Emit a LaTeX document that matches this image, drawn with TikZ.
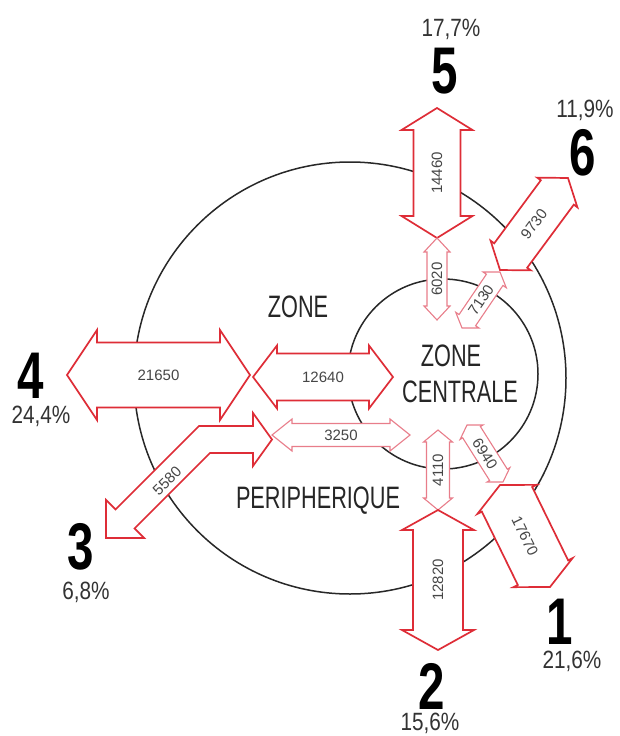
\documentclass[tikz,border=0pt]{standalone}
\usepackage{fontspec}
\setmainfont{Liberation Sans}
\newfontfamily\zonefont[FakeStretch=0.7]{Liberation Sans}
\newfontfamily\bignumfont[FakeStretch=0.72]{Liberation Sans Bold}
\newfontfamily\pctfont[FakeStretch=0.83]{Liberation Sans}
\usetikzlibrary{calc}
\definecolor{arrred}{RGB}{222,45,55}
\definecolor{arrpink}{RGB}{232,125,138}
\definecolor{labgray}{RGB}{70,70,70}
\definecolor{circdark}{RGB}{40,40,40}
\tikzset{
  bigarrow/.style={draw=arrred, line width=1.7pt, fill=white, line join=miter},
  smallarrow/.style={draw=arrpink, line width=1.1pt, fill=white, line join=miter},
  lbl/.style={font=\fontsize{15}{15}\selectfont, text=labgray, inner sep=0pt},
  zonetxt/.style={font=\zonefont\fontsize{31}{31}\selectfont, text=black!85, inner sep=0pt},
  bignum/.style={font=\bignumfont\fontsize{66}{66}\selectfont, text=black, inner sep=0pt},
  pct/.style={font=\pctfont\fontsize{25}{25}\selectfont, text=black!80, inner sep=0pt},
  ring/.style={draw=circdark, line width=1.5pt}
}
% #1 name, #2 tip A, #3 tip B, #4 shaft half width, #5 head half width,
% #6 head length, #7 style, #8 label rotation, #9 label
\newcommand\flowarrow[9]{%
  \coordinate (#1-A) at (#2);
  \coordinate (#1-B) at (#3);
  \coordinate (#1-HA) at ($(#1-A)!#6!(#1-B)$);
  \coordinate (#1-HB) at ($(#1-B)!#6!(#1-A)$);
  \draw[#7] (#1-A) -- ($(#1-HA)!#5!90:(#1-B)$) -- ($(#1-HA)!#4!90:(#1-B)$)
    -- ($(#1-HB)!#4!-90:(#1-A)$) -- ($(#1-HB)!#5!-90:(#1-A)$) -- (#1-B)
    -- ($(#1-HB)!#5!90:(#1-A)$) -- ($(#1-HB)!#4!90:(#1-A)$)
    -- ($(#1-HA)!#4!-90:(#1-B)$) -- ($(#1-HA)!#5!-90:(#1-B)$) -- cycle;
  \node[lbl, rotate=#8] (#1-t) at ($(#1-A)!0.5!(#1-B)$) {#9};
}
\begin{document}
\begin{tikzpicture}[x=1pt,y=-1pt]
\useasboundingbox (0,0) rectangle (619,736);
% rings
\draw[ring] (350,378) circle[radius=216];
\draw[ring] (443,374) circle[radius=95];
% arrows
\flowarrow{a5}{437,108}{437,238}{23.5pt}{35.5pt}{22pt}{bigarrow}{90}{14460}
\flowarrow{a5i}{437,238}{437,320}{10pt}{13pt}{14pt}{smallarrow}{90}{6020}
\flowarrow{a6}{500,270}{568,178}{20.5pt}{25pt}{18pt}{bigarrow}{53.5}{9730}
\flowarrow{a6i}{462,328}{500,272}{10pt}{14pt}{9.5pt}{smallarrow}{55.8}{7130}
\flowarrow{a4}{67,375}{250,375}{32.5pt}{45pt}{30pt}{bigarrow}{0}{21650}
\flowarrow{a4i}{253,377}{393,377}{23.5pt}{31.5pt}{24pt}{bigarrow}{0}{12640}
\flowarrow{a3i}{272,435}{410,435}{11.5pt}{16pt}{20pt}{smallarrow}{0}{3250}
\flowarrow{a2i}{438,430}{438,510}{11.5pt}{14.5pt}{12pt}{smallarrow}{90}{4110}
\flowarrow{a2}{438,510}{438,650}{25pt}{36pt}{20pt}{bigarrow}{90}{12820}
\flowarrow{a1i}{467,425}{503,482}{10.5pt}{13.5pt}{8.5pt}{smallarrow}{-57.7}{6940}
\flowarrow{a1}{500,485}{550,587}{28pt}{33pt}{16pt}{bigarrow}{-63.9}{17670}
% bent arrow towards 3
\draw[bigarrow] (106,538) -- (106,499.8) -- (115.6,509.4) -- (199,426) -- (253,426)
  -- (253,413) -- (272,439.5) -- (253,466) -- (253,453) -- (210,453)
  -- (134.6,528.4) -- (144.2,538) -- cycle;
\node[lbl, rotate=45] (a3-t) at (167,481) {5580};
% zone labels
\node[zonetxt] (zone1) at (298,307) {ZONE};
\node[zonetxt] (zone2) at (451,356) {ZONE};
\node[zonetxt] (centrale) at (460,392) {CENTRALE};
\node[zonetxt] (peri) at (318,501) {PERIPHERIQUE};
% destinations
\node[bignum] (n5) at (445,71) {5};
\node[pct] (p5) at (451,29) {17,7\%};
\node[bignum] (n6) at (583,153) {6};
\node[pct] (p6) at (585,110) {11,9\%};
\node[bignum] (n4) at (31,376) {4};
\node[pct] (p4) at (41,416) {24,4\%};
\node[bignum] (n3) at (81,547) {3};
\node[pct] (p3) at (86,592) {6,8\%};
\node[bignum] (n2) at (432,686) {2};
\node[pct] (p2) at (430,723) {15,6\%};
\node[bignum] (n1) at (560,622) {1};
\node[pct] (p1) at (572,661) {21,6\%};
\end{tikzpicture}
\end{document}
